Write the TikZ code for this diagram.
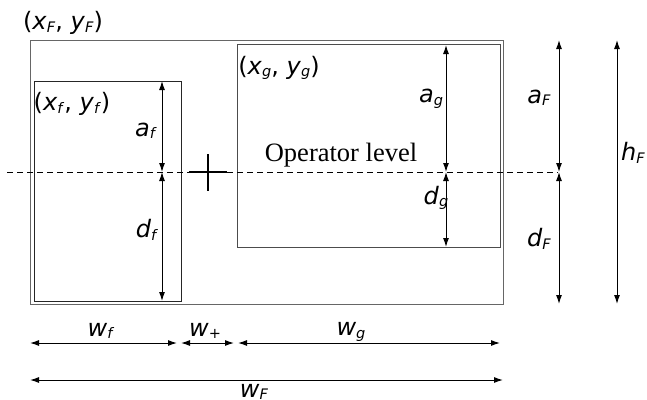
\documentclass[tikz,border=0pt]{standalone}
\usepackage{fontspec}
\setmainfont{DejaVu Sans}
\newfontfamily\serif{Liberation Serif}
\usetikzlibrary{arrows.meta}
\newcommand\lo[1]{\raisebox{-2.5pt}{\fontsize{14.5}{15}\selectfont #1}}
\newcommand\vv[1]{\textit{#1}}
\begin{document}
\begin{tikzpicture}[x=1pt,y=-1pt,
  lab/.style={font=\fontsize{24}{28}\selectfont, inner sep=0pt},
  boxF/.style={draw=black!60, line width=1.2pt, inner sep=0pt, anchor=north west},
  boxf/.style={draw=black!85, line width=1.2pt, inner sep=0pt, anchor=north west},
  dim/.style={{Latex[length=9pt,width=6pt]}-{Latex[length=9pt,width=6pt]}, line width=1pt},
  level/.style={dashed, dash pattern=on 6pt off 4pt, line width=0.9pt}]
\useasboundingbox (0,0) rectangle (647,399);
% boxes
\node[boxF, minimum width=473pt, minimum height=264pt] (F) at (30,40) {};
\node[boxf, minimum width=147pt, minimum height=220pt] (f) at (34,81) {};
\node[boxF, draw=black!70, minimum width=263pt, minimum height=203pt] (g) at (237,44) {};
% operator level
\coordinate (lvA) at (7,172);
\coordinate (lvB) at (558,172);
\draw[level] (lvA) -- (lvB);
% plus sign
\coordinate (pl) at (189,172); \coordinate (pr) at (227,172);
\coordinate (pt) at (208,154); \coordinate (pb) at (208,191);
\draw[line width=2.6pt] (pl) -- (pr);
\draw[line width=2.6pt] (pt) -- (pb);
% vertical dimension coordinates
\coordinate (af1) at (162,81);  \coordinate (af2) at (162,172);
\coordinate (df1) at (162,172); \coordinate (df2) at (162,301);
\coordinate (ag1) at (446,45);  \coordinate (ag2) at (446,172);
\coordinate (dg1) at (446,172); \coordinate (dg2) at (446,247);
\coordinate (aF1) at (559,40);  \coordinate (aF2) at (559,172);
\coordinate (dF1) at (559,172); \coordinate (dF2) at (559,304);
\coordinate (hF1) at (617,40);  \coordinate (hF2) at (617,304);
\draw[dim] (af1) -- (af2);
\draw[dim] (df1) -- (df2);
\draw[dim] (ag1) -- (ag2);
\draw[dim] (dg1) -- (dg2);
\draw[dim] (aF1) -- (aF2);
\draw[dim] (dF1) -- (dF2);
\draw[dim] (hF1) -- (hF2);
% horizontal dimension coordinates
\coordinate (wf1) at (30,343);  \coordinate (wf2) at (177,343);
\coordinate (wp1) at (181,343); \coordinate (wp2) at (234,343);
\coordinate (wg1) at (238,343); \coordinate (wg2) at (500,343);
\coordinate (wF1) at (30,380);  \coordinate (wF2) at (503,380);
\draw[dim] (wf1) -- (wf2);
\draw[dim] (wp1) -- (wp2);
\draw[dim] (wg1) -- (wg2);
\draw[dim] (wF1) -- (wF2);
% labels
\node[lab] (lF) at (63,23) {(\vv{x}\lo{\vv{F}}, \vv{y}\lo{\vv{F}})};
\node[lab] (lf) at (72,104) {(\vv{x}\lo{\vv{f}}, \vv{y}\lo{\vv{f}})};
\node[lab] (lg) at (279,68) {(\vv{x}\lo{\vv{g}}, \vv{y}\lo{\vv{g}})};
\node[lab] (laf) at (146,131) {\vv{a}\lo{\vv{f}}};
\node[lab] (ldf) at (147,230) {\vv{d}\lo{\vv{f}}};
\node[lab] (lag) at (431,99) {\vv{a}\lo{\vv{g}}};
\node[lab] (ldg) at (436,198) {\vv{d}\lo{\vv{g}}};
\node[lab] (laF) at (539,98) {\vv{a}\lo{\vv{F}}};
\node[lab] (ldF) at (539,239) {\vv{d}\lo{\vv{F}}};
\node[lab] (lhF) at (633,153) {\vv{h}\lo{\vv{F}}};
\node[lab, font=\serif\fontsize{26.5}{30}\selectfont] (op) at (341,155) {Operator level};
\node[lab] (lwf) at (101,331) {\vv{w}\lo{\vv{f}}};
\node[lab] (lwp) at (205,331) {\vv{w}\lo{+}};
\node[lab] (lwg) at (351,332) {\vv{w}\lo{\vv{g}}};
\node[lab] (lwF) at (254,392) {\vv{w}\lo{\vv{F}}};
\end{tikzpicture}
\end{document}
